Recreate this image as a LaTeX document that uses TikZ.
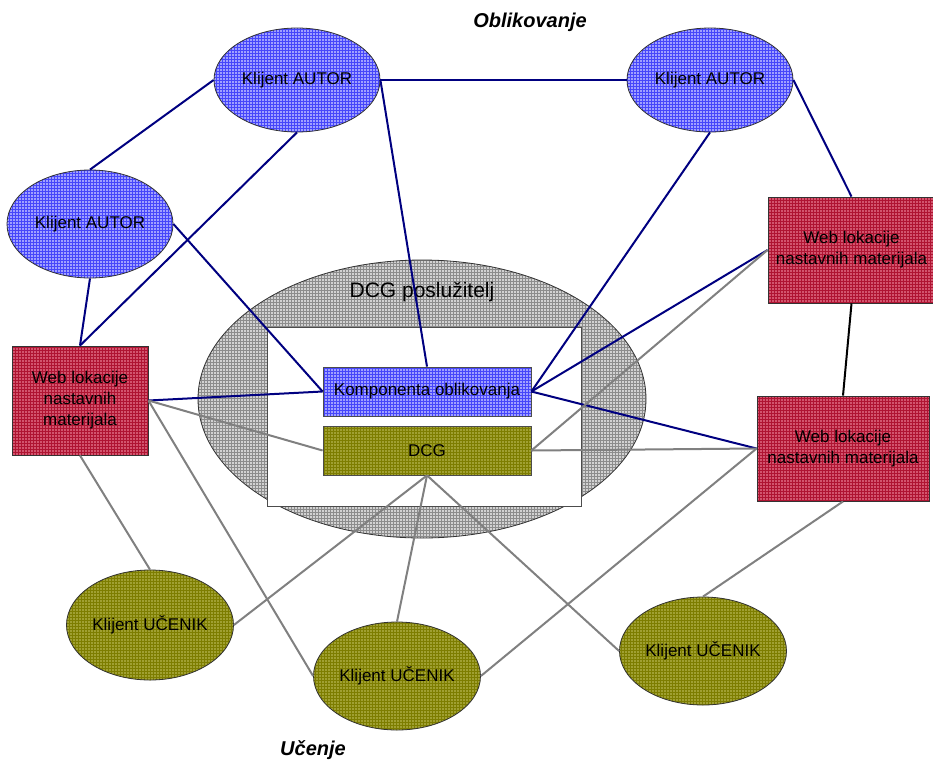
\documentclass[tikz,border=0pt]{standalone}
\usepackage{fontspec}
\setmainfont{Liberation Sans}
\usetikzlibrary{shapes.geometric,patterns}

\definecolor{autorbase}{RGB}{160,160,255}
\definecolor{autorgrid}{RGB}{70,70,250}
\definecolor{webbase}{RGB}{210,85,110}
\definecolor{webgrid}{RGB}{175,20,50}
\definecolor{ucenikbase}{RGB}{160,160,50}
\definecolor{ucenikgrid}{RGB}{125,125,0}
\definecolor{serverbase}{RGB}{210,210,210}
\definecolor{servergrid}{RGB}{140,140,140}
\definecolor{linknavy}{RGB}{0,0,128}
\definecolor{linkgray}{RGB}{128,128,128}

\tikzset{
  x=1pt, y=-1pt,
  txt/.style={font=\fontsize{17}{21}\selectfont, align=center, text=black},
  autorfill/.style={preaction={fill=autorbase}, pattern=grid, pattern color=autorgrid},
  webfill/.style={preaction={fill=webbase}, pattern=grid, pattern color=webgrid},
  ucenikfill/.style={preaction={fill=ucenikbase}, pattern=grid, pattern color=ucenikgrid},
  serverfill/.style={preaction={fill=serverbase}, pattern=grid, pattern color=servergrid},
  autornode/.style={ellipse, draw=black!80, line width=0.8pt, autorfill, txt, inner sep=0pt},
  uceniknode/.style={ellipse, draw=black!80, line width=0.8pt, ucenikfill, txt, inner sep=0pt,
    minimum width=167pt},
  webnode/.style={rectangle, draw=black!80, line width=0.9pt, webfill, txt, inner sep=0pt},
  navylink/.style={draw=linknavy, line width=2pt},
  graylink/.style={draw=linkgray, line width=2pt},
  blacklink/.style={draw=black, line width=2pt},
  heading/.style={font=\fontsize{20}{24}\selectfont\bfseries\itshape}
}

\begin{document}
\begin{tikzpicture}
\useasboundingbox (0,0) rectangle (933,761);

% server shell with its inner area
\node (server) [ellipse, draw=black!80, line width=0.8pt, serverfill,
  minimum width=448pt, minimum height=278pt, inner sep=0pt] at (422,399) {};
\node (serverlabel) [font=\fontsize{21}{25}\selectfont] at (422,292) {DCG poslužitelj};
\node (inner) [rectangle, draw=black!70, line width=0.8pt, fill=white,
  minimum width=314pt, minimum height=179pt, inner sep=0pt] at (424,416.5) {};

% components on the server
\node (komp) [rectangle, draw=black!70, line width=0.8pt, autorfill, txt,
  minimum width=208pt, minimum height=49pt, inner sep=0pt] at (427,391.5) {Komponenta oblikovanja};
\node (dcg) [rectangle, draw=black!70, line width=0.8pt, ucenikfill, txt,
  minimum width=208pt, minimum height=49pt, inner sep=0pt] at (427,450.5) {DCG};

% author clients
\node (a1) [autornode, minimum width=166pt, minimum height=104pt] at (297,80) {Klijent AUTOR};
\node (a2) [autornode, minimum width=166pt, minimum height=104pt] at (710,80) {Klijent AUTOR};
\node (a3) [autornode, minimum width=166pt, minimum height=108pt] at (90,224) {Klijent AUTOR};

% web locations of teaching materials
\node (w1) [webnode, minimum width=136pt, minimum height=109pt] at (80,400.5)
  {Web lokacije\\nastavnih\\materijala};
\node (w2) [webnode, minimum width=167pt, minimum height=106pt] at (851.5,250)
  {Web lokacije\\nastavnih materijala};
\node (w3) [webnode, minimum width=172pt, minimum height=105pt] at (843,448.5)
  {Web lokacije\\nastavnih materijala};

% student clients
\node (u1) [uceniknode, minimum height=110pt] at (150,625) {Klijent UČENIK};
\node (u2) [uceniknode, minimum height=108pt] at (397,676) {Klijent UČENIK};
\node (u3) [uceniknode, minimum height=108pt] at (703,651) {Klijent UČENIK};

% headings
\node (th) [heading] at (530,22) {Oblikovanje};
\node (bh) [heading] at (313,750) {Učenje};

% authoring links
\draw[navylink] (a1.west) -- (a3.north);
\draw[navylink] (a1.east) -- (a2.west);
\draw[navylink] (a1.south) -- (w1.north);
\draw[navylink] (a3.south) -- (w1.north);
\draw[navylink] (a1.east) -- (komp.north);
\draw[navylink] (a3.east) -- (komp.west);
\draw[navylink] (a2.south) -- (komp.east);
\draw[navylink] (a2.east) -- (w2.north);
\draw[navylink] (w2.west) -- (komp.east);
\draw[navylink] (w1.east) -- (komp.west);
\draw[navylink] (komp.east) -- (w3.west);
\draw[blacklink] (w2.south) -- (w3.north);

% learning links
\draw[graylink] (w1.east) -- (dcg.west);
\draw[graylink] (w1.south) -- (u1.north);
\draw[graylink] (w1.east) -- (u2.west);
\draw[graylink] (dcg.south) -- (u1.east);
\draw[graylink] (dcg.south) -- (u2.north);
\draw[graylink] (dcg.south) -- (u3.west);
\draw[graylink] (dcg.east) -- (w2.west);
\draw[graylink] (dcg.east) -- (w3.west);
\draw[graylink] (w3.west) -- (u2.east);
\draw[graylink] (w3.south) -- (u3.north);
\end{tikzpicture}
\end{document}
